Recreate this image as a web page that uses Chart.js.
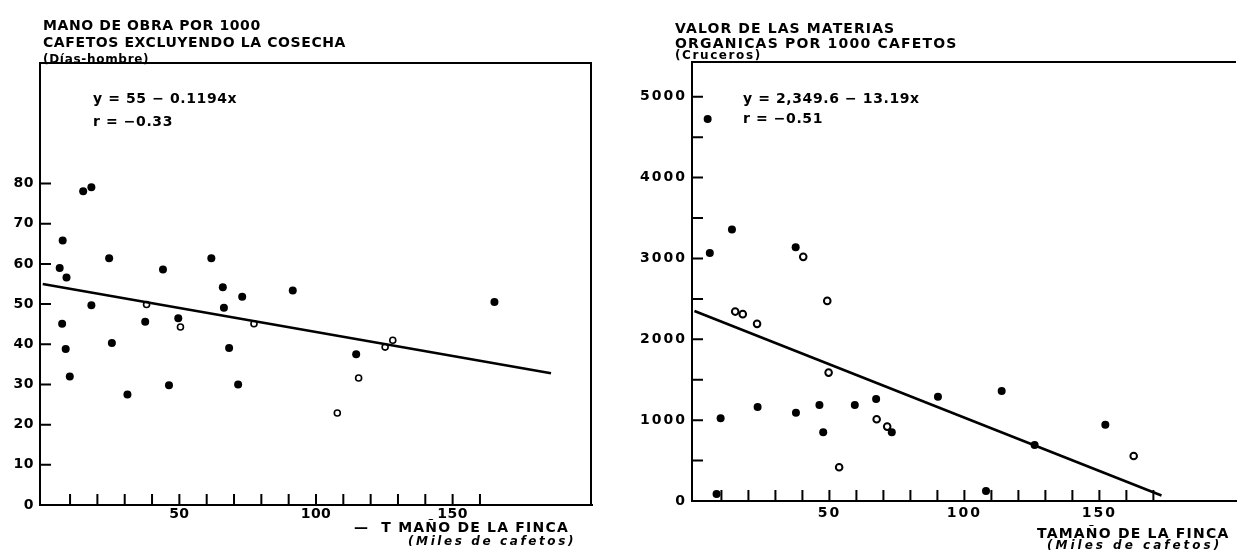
<!DOCTYPE html>
<html>
<head>
<meta charset="utf-8">
<script src="https://cdn.jsdelivr.net/npm/chart.js@4/dist/chart.umd.min.js"></script>
<style>
  body { margin: 0; background: #fff; }
  #wrap { position: relative; width: 1242px; height: 554px; }
  canvas { position: absolute; top: 0; }
  #labourChart { left: 0; }
  #organicChart { left: 610px; }
</style>
</head>
<body>
<div id="wrap">
  <canvas id="labourChart" width="610" height="554"></canvas>
  <canvas id="organicChart" width="632" height="554"></canvas>
</div>
<script>
// Mano de obra por 1000 cafetos (días-hombre) según tamaño de finca (miles de cafetos)
const labourSolidX = [14.8, 17.8, 7.3, 6.2, 8.7, 24.3, 17.8, 7.1, 8.4, 9.9, 25.3, 31.0, 44.0, 37.5, 49.6, 46.2, 61.7, 65.9, 66.3, 68.2, 71.5, 73.0, 91.5, 165.3, 114.7];
const labourSolidY = [78.1, 79.1, 65.8, 59.0, 56.6, 61.4, 49.7, 45.1, 38.8, 32.0, 40.3, 27.5, 58.6, 45.6, 46.5, 29.8, 61.4, 54.2, 49.1, 39.1, 30.0, 51.8, 53.4, 50.5, 37.5];
const labourOpenX = [38.0, 50.4, 77.3, 125.3, 128.1, 115.6, 107.8];
const labourOpenY = [49.9, 44.3, 45.1, 39.3, 41.0, 31.6, 22.9];
const labourFit = [55, -0.1194];       // intercepto, pendiente
const labourFitRange = [0, 186];
const labourXLabels = [50, 100, 150];
const labourYLabels = [0, 10, 20, 30, 40, 50, 60, 70, 80];
const labourXMarks = [10, 20, 30, 40, 50, 60, 70, 80, 90, 100, 110, 120, 130, 140, 150, 160];
const labourYMarks = [10, 20, 30, 40, 50, 60, 70, 80];

// Valor de las materias orgánicas por 1000 cafetos (cruceros)
const organicSolidX = [4.9, 5.7, 13.9, 37.5, 23.4, 9.7, 37.6, 46.3, 59.4, 67.3, 73.1, 47.7, 8.2, 90.2, 108, 113.8, 152.2, 126];
const organicSolidY = [4724, 3069, 3358, 3140, 1163, 1023, 1093, 1188, 1188, 1262, 850, 850, 87, 1291, 124, 1361, 944, 693];
const organicRingX = [40.3, 49.2, 15.1, 17.9, 23.2, 49.7, 67.5, 71.4, 53.6, 162.7];
const organicRingY = [3020, 2475, 2343, 2311, 2191, 1588, 1011, 920, 417, 557];
const organicFit = [2349.6, -13.19];
const organicFitRange = [0, 173];
const organicXLabels = [50, 100, 150];
const organicYLabels = [0, 1000, 2000, 3000, 4000, 5000];
const organicXMarks = [10, 20, 30, 40, 50, 60, 70, 80, 90, 100, 110, 120, 130, 140, 150, 160, 170];
const organicYMarks = [500, 1000, 1500, 2000, 2500, 3000, 3500, 4000, 4500, 5000];

const FONT = 'DejaVu Sans';

function points(xs, ys) {
    return xs.map((x, i) => ({ x: x, y: ys[i] }));
}

function fitLine(fit, range) {
    return range.map(x => ({ x: x, y: fit[0] + fit[1] * x }));
}

function axis(min, max, labels, size, pad) {
    return {
        type: 'linear',
        min: min,
        max: max,
        grid: { display: false, drawTicks: false },
        border: { display: true, color: '#000', width: 2 },
        ticks: {
            color: '#000',
            padding: pad,
            autoSkip: false,
            maxRotation: 0,
            font: { family: FONT, size: 14, weight: 'bold' },
            callback: v => String(v)
        },
        afterBuildTicks: s => { s.ticks = labels.map(v => ({ value: v })); },
        afterFit: s => {
            if (s.isHorizontal()) s.height = size;
            else s.width = size;
        }
    };
}

// letter spacing for everything the library writes on the canvas
const spacing = {
    id: 'spacing',
    beforeDraw(chart, args, opts) {
        chart.ctx.letterSpacing = opts.value + 'px';
    }
};

// tick marks pointing into the plot, plus the box lines
const inwardTicks = {
    id: 'inwardTicks',
    afterDraw(chart, args, opts) {
        const ctx = chart.ctx;
        const area = chart.chartArea;
        const xs = chart.scales.x, ys = chart.scales.y;
        ctx.save();
        ctx.strokeStyle = '#000';
        ctx.lineWidth = 2;
        ctx.beginPath();
        opts.x.forEach(v => {
            const px = xs.getPixelForValue(v);
            ctx.moveTo(px, area.bottom);
            ctx.lineTo(px, area.bottom - opts.len);
        });
        opts.y.forEach(v => {
            const py = ys.getPixelForValue(v);
            ctx.moveTo(area.left, py);
            ctx.lineTo(area.left + opts.len, py);
        });
        ctx.moveTo(area.left, area.top);
        ctx.lineTo(area.right, area.top);
        if (opts.rightSide) {
            ctx.moveTo(area.right - 1, area.top);
            ctx.lineTo(area.right - 1, area.bottom);
        }
        ctx.stroke();
        ctx.restore();
    }
};

// titles, equation and axis captions
const captions = {
    id: 'captions',
    afterDraw(chart, args, opts) {
        const ctx = chart.ctx;
        ctx.save();
        ctx.fillStyle = '#000';
        ctx.textBaseline = 'alphabetic';
        ctx.textAlign = 'left';
        opts.items.forEach(t => {
            ctx.font = t.font;
            ctx.letterSpacing = (t.spacing || 0) + 'px';
            ctx.fillText(t.text, t.x, t.y);
        });
        ctx.restore();
    }
};

function makeChart(id, cfg) {
    const ctx = document.getElementById(id).getContext('2d');
    new Chart(ctx, {
        data: {
            datasets: [{
                type: 'line',
                data: fitLine(cfg.fit, cfg.fitRange),
                borderColor: '#000',
                borderWidth: 2.6,
                pointRadius: 0,
                fill: false
            }, {
                type: 'scatter',
                data: points(cfg.solidX, cfg.solidY),
                backgroundColor: '#000',
                borderColor: '#000',
                borderWidth: 0,
                pointRadius: 4
            }, {
                type: 'scatter',
                data: points(cfg.openX, cfg.openY),
                backgroundColor: '#fff',
                borderColor: '#000',
                borderWidth: cfg.openBorder,
                pointRadius: cfg.openRadius
            }]
        },
        options: {
            responsive: false,
            animation: false,
            layout: { padding: cfg.padding },
            scales: {
                x: axis(cfg.xMin, cfg.xMax, cfg.xLabels, cfg.xSize, cfg.xPad),
                y: axis(cfg.yMin, cfg.yMax, cfg.yLabels, cfg.ySize, cfg.yPad)
            },
            plugins: {
                legend: { display: false },
                tooltip: { enabled: false },
                spacing: { value: cfg.tickSpacing },
                inwardTicks: { x: cfg.xMarks, y: cfg.yMarks, len: 11, rightSide: cfg.rightSide },
                captions: { items: cfg.captions }
            }
        },
        plugins: [spacing, inwardTicks, captions]
    });
}

makeChart('labourChart', {
    solidX: labourSolidX, solidY: labourSolidY,
    openX: labourOpenX, openY: labourOpenY,
    openRadius: 3, openBorder: 1.6,
    fit: labourFit, fitRange: labourFitRange,
    xMin: -1, xMax: 201, yMin: 0, yMax: 110,
    xLabels: labourXLabels, yLabels: labourYLabels,
    xMarks: labourXMarks, yMarks: labourYMarks,
    xSize: 49, ySize: 40, xPad: 1, yPad: 6,
    tickSpacing: 0.5,
    padding: { top: 63, right: 18 },
    rightSide: true,
    captions: [
        { text: 'MANO DE OBRA POR 1000', x: 43, y: 30, font: 'bold 14px ' + FONT, spacing: 0.6 },
        { text: 'CAFETOS EXCLUYENDO LA COSECHA', x: 43, y: 47, font: 'bold 14px ' + FONT, spacing: 0.6 },
        { text: '(Días-hombre)', x: 43, y: 63, font: 'bold 12px ' + FONT, spacing: 0.7 },
        { text: 'y = 55 − 0.1194x', x: 93, y: 103, font: 'bold 14px ' + FONT, spacing: 0.6 },
        { text: 'r = −0.33', x: 93, y: 126, font: 'bold 14px ' + FONT, spacing: 0.6 },
        { text: '—  T MAÑO DE LA FINCA', x: 354, y: 532, font: 'bold 14px ' + FONT, spacing: 1.2 },
        { text: '(Miles de cafetos)', x: 408, y: 545, font: 'italic bold 12px ' + FONT, spacing: 2.6 }
    ]
});

makeChart('organicChart', {
    solidX: organicSolidX, solidY: organicSolidY,
    openX: organicRingX, openY: organicRingY,
    openRadius: 3.3, openBorder: 2,
    fit: organicFit, fitRange: organicFitRange,
    xMin: -0.9, xMax: 200.6, yMin: 0, yMax: 5430,
    xLabels: organicXLabels, yLabels: organicYLabels,
    xMarks: organicXMarks, yMarks: organicYMarks,
    xSize: 53, ySize: 82, xPad: 4, yPad: 5,
    tickSpacing: 2,
    padding: { top: 62, right: 0 },
    rightSide: false,
    captions: [
        { text: 'VALOR DE LAS MATERIAS', x: 65, y: 33, font: 'bold 14px ' + FONT, spacing: 1.1 },
        { text: 'ORGANICAS POR 1000 CAFETOS', x: 65, y: 48, font: 'bold 14px ' + FONT, spacing: 1.2 },
        { text: '(Cruceros)', x: 65, y: 59, font: 'bold 12px ' + FONT, spacing: 1.6 },
        { text: 'y = 2,349.6 − 13.19x', x: 133, y: 103, font: 'bold 14px ' + FONT, spacing: 0.6 },
        { text: 'r = −0.51', x: 133, y: 123, font: 'bold 14px ' + FONT, spacing: 0.6 },
        { text: 'TAMAÑO DE LA FINCA', x: 427, y: 538, font: 'bold 14px ' + FONT, spacing: 1.2 },
        { text: '(Miles de cafetos)', x: 437, y: 549, font: 'italic bold 12px ' + FONT, spacing: 3 }
    ]
});
</script>
</body>
</html>
